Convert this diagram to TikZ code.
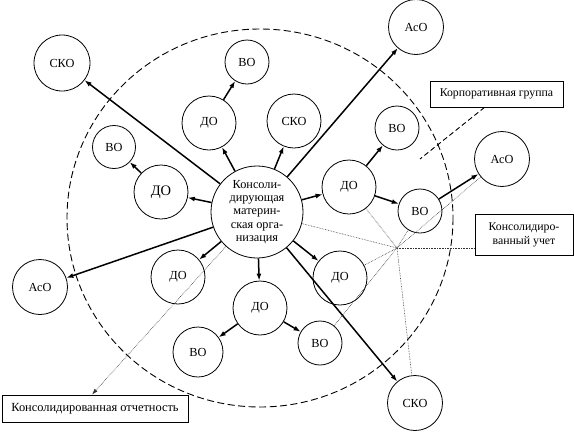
\documentclass[tikz,border=0pt]{standalone}
\usepackage{fontspec}
\setmainfont{Liberation Serif}
\usetikzlibrary{arrows.meta,calc}
\begin{document}
\begin{tikzpicture}[x=1pt,y=-1pt,
  org/.style={draw,circle,line width=0.8pt,inner sep=0pt,minimum size=#1,font=\rmfamily\fontsize{12.3}{13.3}\selectfont},
  org/.default=54pt,
  lbl/.style={draw,line width=0.8pt,inner sep=0pt,align=center},
  arr/.style={line width=1.5pt,-{Latex[length=7pt,width=5pt]}},
  dot/.style={densely dotted,line width=0.6pt,black!80},
]
\useasboundingbox (0,0) rectangle (574,432);
\draw[dash pattern=on 7pt off 3.5pt,line width=0.9pt] (260,218) ellipse [x radius=193, y radius=189];

\node[org=92pt,align=center] (c) at (257,212) {Консоли-\\дирующая\\материн-\\ская орга-\\низация};
\node[org=56pt] (sko1) at (62,63) {СКО};
\node[org=44pt] (vo1) at (247,62) {ВО};
\node[org=54pt] (do1) at (209,123) {ДО};
\node[org=54pt] (sko2) at (294,121) {СКО};
\node[org=43pt] (vo2) at (114,147) {ВО};
\node[org=54pt,font=\rmfamily\fontsize{14.5}{15}\selectfont] (do2) at (161,192) {ДО};
\node[org=55pt] (aso1) at (416,27) {АсО};
\node[org=44pt] (vo3) at (397,128) {ВО};
\node[org=55pt] (aso2) at (502,159) {АсО};
\node[org=54pt] (do3) at (349,187) {ДО};
\node[org=44pt] (vo4) at (420,211) {ВО};
\node[org=55pt] (aso3) at (40,287) {АсО};
\node[org=54pt] (do4) at (178,277) {ДО};
\node[org=54pt] (do5) at (260,308) {ДО};
\node[org=50pt] (vo5) at (198,352) {ВО};
\node[org=54pt] (do6) at (340,278) {ДО};
\node[org=44pt] (vo6) at (320,343) {ВО};
\node[org=55pt] (sko3) at (415,403) {СКО};

\node[lbl,minimum width=133pt,minimum height=26pt,font=\rmfamily\fontsize{11.8}{13}\selectfont] (kg) at (496.5,94) {Корпоративная группа};
\node[lbl,minimum width=98pt,minimum height=41pt,font=\rmfamily\fontsize{11.8}{14}\selectfont] (ku) at (524,234.5) {Консолидиро-\\ванный учет};
\node[lbl,minimum width=186pt,minimum height=27pt,font=\rmfamily\fontsize{12.4}{14}\selectfont] (ko) at (95,408.5) {Консолидированная отчетность};

\coordinate (hub) at (397,248);
\coordinate (kgend) at (420,159);

\draw[arr] (c) -- (sko1);
\draw[arr] (c) -- (do1);
\draw[arr] (c) -- (sko2);
\draw[arr] (c) -- (aso1);
\draw[arr] (c) -- (do3);
\draw[arr] (c) -- (do2);
\draw[arr] (c) -- (aso3);
\draw[arr] (c) -- (do4);
\draw[arr] (c) -- (do5);
\draw[arr] (c) -- (do6);
\draw[arr] (c) -- (sko3);
\draw[arr] (do1) -- (vo1);
\draw[arr] (do2) -- (vo2);
\draw[arr] (do3) -- (vo3);
\draw[arr] (do3) -- (vo4);
\draw[arr] (vo4) -- (aso2);
\draw[arr] (do5) -- (vo5);
\draw[arr] (do5) -- (vo6);

\draw[dash pattern=on 5pt off 3pt,line width=0.9pt] ([xshift=-12pt]kg.south) -- (kgend);

\draw[dot] (hub) -- (ku.west |- hub);
\draw[dot] (hub) -- (c);
\draw[dot] (hub) -- (do3);
\draw[dot] (hub) -- (vo4);
\draw[dot] (hub) -- (aso2);
\draw[dot] (hub) -- (do6);
\draw[dot] (hub) -- (vo6);
\draw[dot] (hub) -- (sko3);
\draw[dot,-{Latex[length=6pt,width=4pt]}] (c) -- ([xshift=-3pt]ko.north);
\end{tikzpicture}
\end{document}
